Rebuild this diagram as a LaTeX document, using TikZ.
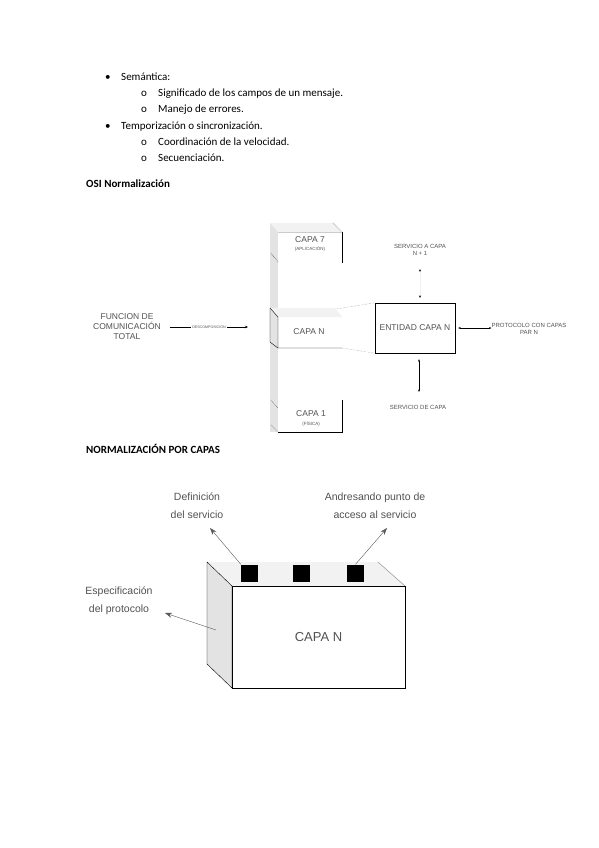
\documentclass[tikz,border=0pt]{standalone}
\usepackage{fontspec}
\setmainfont{Carlito}
\newfontfamily\arialfont{Liberation Sans}
\usetikzlibrary{arrows.meta}
\definecolor{sideGray}{gray}{0.89}
\definecolor{topGray}{gray}{0.95}
\definecolor{inkGray}{gray}{0.32}
\tikzset{
  body/.style={anchor=base west, inner sep=0pt, font=\fontsize{11}{13}\selectfont},
  osi/.style={inner sep=0pt, align=center, text=inkGray, font=\arialfont\fontsize{8.5}{10}\selectfont},
  osismall/.style={inner sep=0pt, align=center, text=inkGray, font=\arialfont\fontsize{6}{7.5}\selectfont},
  ositiny/.style={inner sep=0pt, align=center, text=inkGray, font=\arialfont\fontsize{4.5}{5}\selectfont},
  osiarrow/.style={thin, {Stealth[length=2.5pt,width=2pt,color=black]}-{Stealth[length=2.5pt,width=2pt,color=black]}},
  label/.style={inner sep=0pt, align=center, text=inkGray, font=\arialfont\fontsize{10.5}{18}\selectfont},
  callout/.style={gray!70!black, -{Stealth[length=7pt,width=5pt]}},
  port/.style={fill=black, minimum size=17, inner sep=0pt}
}
\begin{document}
\begin{tikzpicture}[x=1pt, y=-1pt]
  \useasboundingbox[fill=white] (0,0) rectangle (599,848);
  % list
  \node[body] (BulA) at (105,81) {\textbullet};
  \node[body] (SemT) at (121,81) {Semántica:};
  \node[body] (SubA) at (141,97) {o};
  \node[body] (SubAT) at (158,97) {Significado de los campos de un mensaje.};
  \node[body] (SubB) at (141,113) {o};
  \node[body] (SubBT) at (158,113) {Manejo de errores.};
  \node[body] (BulB) at (105,129) {\textbullet};
  \node[body] (TempT) at (121,129) {Temporización o sincronización.};
  \node[body] (SubC) at (141,145) {o};
  \node[body] (SubCT) at (158,145) {Coordinación de la velocidad.};
  \node[body] (SubD) at (141,161) {o};
  \node[body] (SubDT) at (158,161) {Secuenciación.};
  \node[body, font=\fontsize{11}{13}\selectfont\bfseries] (OsiHead) at (86,187) {OSI Normalización};

  % OSI column
  \fill[sideGray] (270,223) rectangle (278,432);
  \fill[topGray] (270,223) -- (333,223) -- (342,232) -- (278,232) -- cycle;
  \draw[gray!40] (278,232) -- (342,232);
  \draw[densely dotted] (333,223) -- (342,232);
  \draw (342,232) -- (342,263);
  \draw[densely dotted] (271,253) -- (278,262);
  \node[osi] (CapaSiete) at (310,240) {CAPA 7};
  \node[ositiny] (CapaSieteSub) at (310,249) {(APLICACIÓN)};
  % layer N
  \fill[topGray] (270,308) -- (335,308) -- (342,317) -- (278,317) -- cycle;
  \draw (270,308) -- (270,342) -- (278,348) -- (342,348);
  \draw (270,308) -- (278,317) -- (278,348);
  \node[osi] (CapaN) at (309,332) {CAPA N};
  \coordinate (SlabTop) at (336,309);
  \coordinate (SlabBot) at (342,348);
  % layer 1
  \draw[densely dotted] (271,400) -- (278,408);
  \draw (342,400) -- (342,432) -- (278,432);
  \draw[densely dotted] (271,425) -- (278,432);
  \node[osi] (CapaUno) at (311,414) {CAPA 1};
  \node[ositiny] (CapaUnoSub) at (311,424) {(FÍSICA)};

  % left side
  \node[osi] (Func) at (127,327) {FUNCION DE\\COMUNICACIÓN\\TOTAL};
  \coordinate (DescA) at (170,327);
  \coordinate (DescB) at (248,327);
  \draw[-{Stealth[length=3pt,width=2.5pt]}] (DescA) -- node[ositiny, fill=white, inner xsep=1pt,
    font=\arialfont\fontsize{3.6}{4}\selectfont] (Desc) {DESCOMPOSICIÓN} (DescB);

  % entity
  \node[draw, osi, minimum width=80, minimum height=50] (Ent) at (415,328) {ENTIDAD CAPA N};
  \draw[densely dotted, gray] (SlabTop) -- (Ent.north west);
  \draw[densely dotted, gray] (SlabBot) -- (Ent.south west);
  \node[osismall] (SvcUp) at (420,250) {SERVICIO A CAPA\\N + 1};
  \coordinate (UpA) at (420,269);
  \coordinate (UpB) at (420,298);
  \draw[osiarrow, gray!12] (UpA) -- (UpB);
  \node[osismall] (SvcDown) at (418,407) {SERVICIO DE CAPA};
  \coordinate (DownA) at (419,392);
  \draw[osiarrow] (DownA) -- ([yshift=-6pt]Ent.south -| DownA);
  \node[osismall] (Prot) at (529,329) {PROTOCOLO CON CAPAS\\PAR N};
  \draw[osiarrow, shorten <=3pt] (Ent.east) -- (Ent.east -| Prot.west);

  % second figure
  \node[body, font=\fontsize{11}{13}\selectfont\bfseries] (NormHead) at (86,453) {NORMALIZACIÓN POR CAPAS};
  \fill[topGray] (207,562) -- (378,562) -- (405,586) -- (232,586) -- cycle;
  \filldraw[fill=sideGray] (207,562) -- (232,586) -- (232,688) -- (207,664) -- cycle;
  \draw[gray] (378,562) -- (405,586);
  \node[draw, minimum width=173, minimum height=102, inner sep=0pt, text=inkGray,
        font=\arialfont\fontsize{13}{15}\selectfont] (Box) at (318.5,637) {CAPA N};
  \node[port] (PortA) at (249.5,573) {};
  \node[port] (PortB) at (301,573) {};
  \node[port] (PortC) at (355.5,573) {};
  \node[label] (Def) at (197,506) {Definición\\del servicio};
  \node[label] (Addr) at (375,506) {Andresando punto de\\acceso al servicio};
  \node[label] (Espec) at (119,601) {Especificación\\del protocolo};
  \coordinate (DefTip) at (210,528);
  \coordinate (AddrTip) at (387,528);
  \coordinate (EspecTip) at (165,613);
  \coordinate (EspecFoot) at (216,630);
  \draw[callout] (PortA.north west) -- (DefTip);
  \draw[callout] (PortC.north) -- (AddrTip);
  \draw[callout] (EspecFoot) -- (EspecTip);
\end{tikzpicture}
\end{document}
